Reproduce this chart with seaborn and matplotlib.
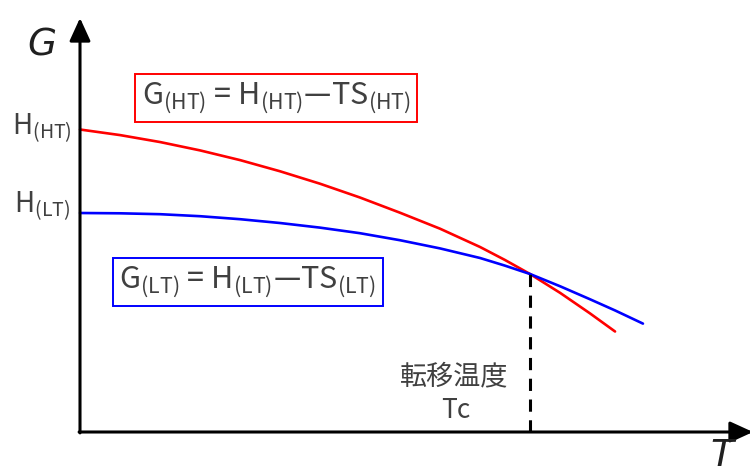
import numpy as np
import pandas as pd
import matplotlib
matplotlib.use("Agg")
import matplotlib.pyplot as plt
import seaborn as sns

# ---- data (arbitrary units) ----
T_ht = [0, 0.89, 1.78, 2.67, 3.56, 4.44, 5.33, 6.22, 7.11, 8.0, 8.89, 9.44, 10.0, 10.67, 11.33, 11.89]
G_ht = [10.083, 9.897, 9.665, 9.386, 9.062, 8.693, 8.278, 7.817, 7.31, 6.777, 6.167, 5.737,
        5.267, 4.637, 3.957, 3.35]
T_lt = [0, 0.89, 1.78, 2.67, 3.56, 4.44, 5.33, 6.22, 7.11, 8.0, 8.89, 9.44, 10.0, 10.67, 11.33, 11.89, 12.51]
G_lt = [7.30, 7.29, 7.26, 7.193, 7.093, 6.967, 6.813, 6.627, 6.393, 6.12, 5.80, 5.547,
        5.267, 4.857, 4.427, 4.052, 3.613]
Tc = 10.0
Gc = 5.267
H_ht = 10.083
H_lt = 7.30
phases = ["HT", "LT"]

sns.set_theme(style="white")
plt.rcParams["font.family"] = ["Noto Sans CJK JP", "DejaVu Sans"]
plt.rcParams["mathtext.fontset"] = "custom"
plt.rcParams["mathtext.rm"] = "Noto Sans CJK JP"
plt.rcParams["mathtext.it"] = "Noto Sans CJK JP"

df = pd.DataFrame({
    "T": T_ht + T_lt,
    "G": G_ht + G_lt,
    "phase": [phases[0]] * len(T_ht) + [phases[1]] * len(T_lt),
})

fig = plt.figure(figsize=(7.5, 4.73), dpi=100)
ax = fig.add_axes([0, 0, 1, 1])
sns.lineplot(data=df, x="T", y="G", hue="phase", palette={"HT": "#ff0000", "LT": "#0000ff"},
             sort=False, estimator=None, linewidth=1.9, legend=False, ax=ax)

ax.set_xlim(-80 / 45, 670 / 45)
ax.set_ylim(-41 / 30, 432 / 30)
ax.axis("off")

# axes with arrows
arrow_kw = dict(arrowstyle="-|>,head_length=0.7,head_width=0.32", lw=2.2, color="black",
                mutation_scale=20, shrinkA=0, shrinkB=0)
ax.annotate("", xy=(0, 414 / 30), xytext=(0, -0.03), arrowprops=arrow_kw, annotation_clip=False)
ax.annotate("", xy=(673 / 45, 0), xytext=(-0.02, 0), arrowprops=arrow_kw, annotation_clip=False)

# dashed transition line
ax.plot([Tc, Tc], [0, Gc], color="black", lw=2.2, ls=(0, (4, 2.8)))

txt = "#404040"
ax.text(-38 / 45, 386 / 30, "G", fontsize=27, style="italic", family="DejaVu Sans",
        color="#202020", ha="center", va="center")
ax.text(642 / 45, -24 / 30, "T", fontsize=27, style="italic", family="DejaVu Sans",
        color="#202020", ha="center", va="center")

ax.annotate(r"$\mathregular{H_{(HT)}}$", xy=(0, H_ht), xytext=(-8, -5), textcoords="offset pixels",
            fontsize=20, color=txt, ha="right", va="baseline")
ax.annotate(r"$\mathregular{H_{(LT)}}$", xy=(0, H_lt), xytext=(-10, 1), textcoords="offset pixels",
            fontsize=20, color=txt, ha="right", va="baseline")

ax.text(196 / 45, 334 / 30,
        r"$\mathregular{G_{(HT)}}$ = $\mathregular{H_{(HT)}}$—$\mathregular{TS_{(HT)}}$",
        fontsize=22, color=txt, ha="center", va="center",
        bbox=dict(boxstyle="square,pad=0.2", fc="white", ec="#ff0000", lw=1.4))
ax.text(168 / 45, 150 / 30,
        r"$\mathregular{G_{(LT)}}$ = $\mathregular{H_{(LT)}}$—$\mathregular{TS_{(LT)}}$",
        fontsize=22, color=txt, ha="center", va="center",
        bbox=dict(boxstyle="square,pad=0.2", fc="white", ec="#0000ff", lw=1.4))

ax.text(Tc - 76 / 45, 55 / 30, "転移温度", fontsize=19.5, color=txt, ha="center", va="center")
ax.text(Tc - 74 / 45, 22 / 30, "Tc", fontsize=19, color=txt, ha="center", va="center")

fig.savefig("out.png", dpi=100)
